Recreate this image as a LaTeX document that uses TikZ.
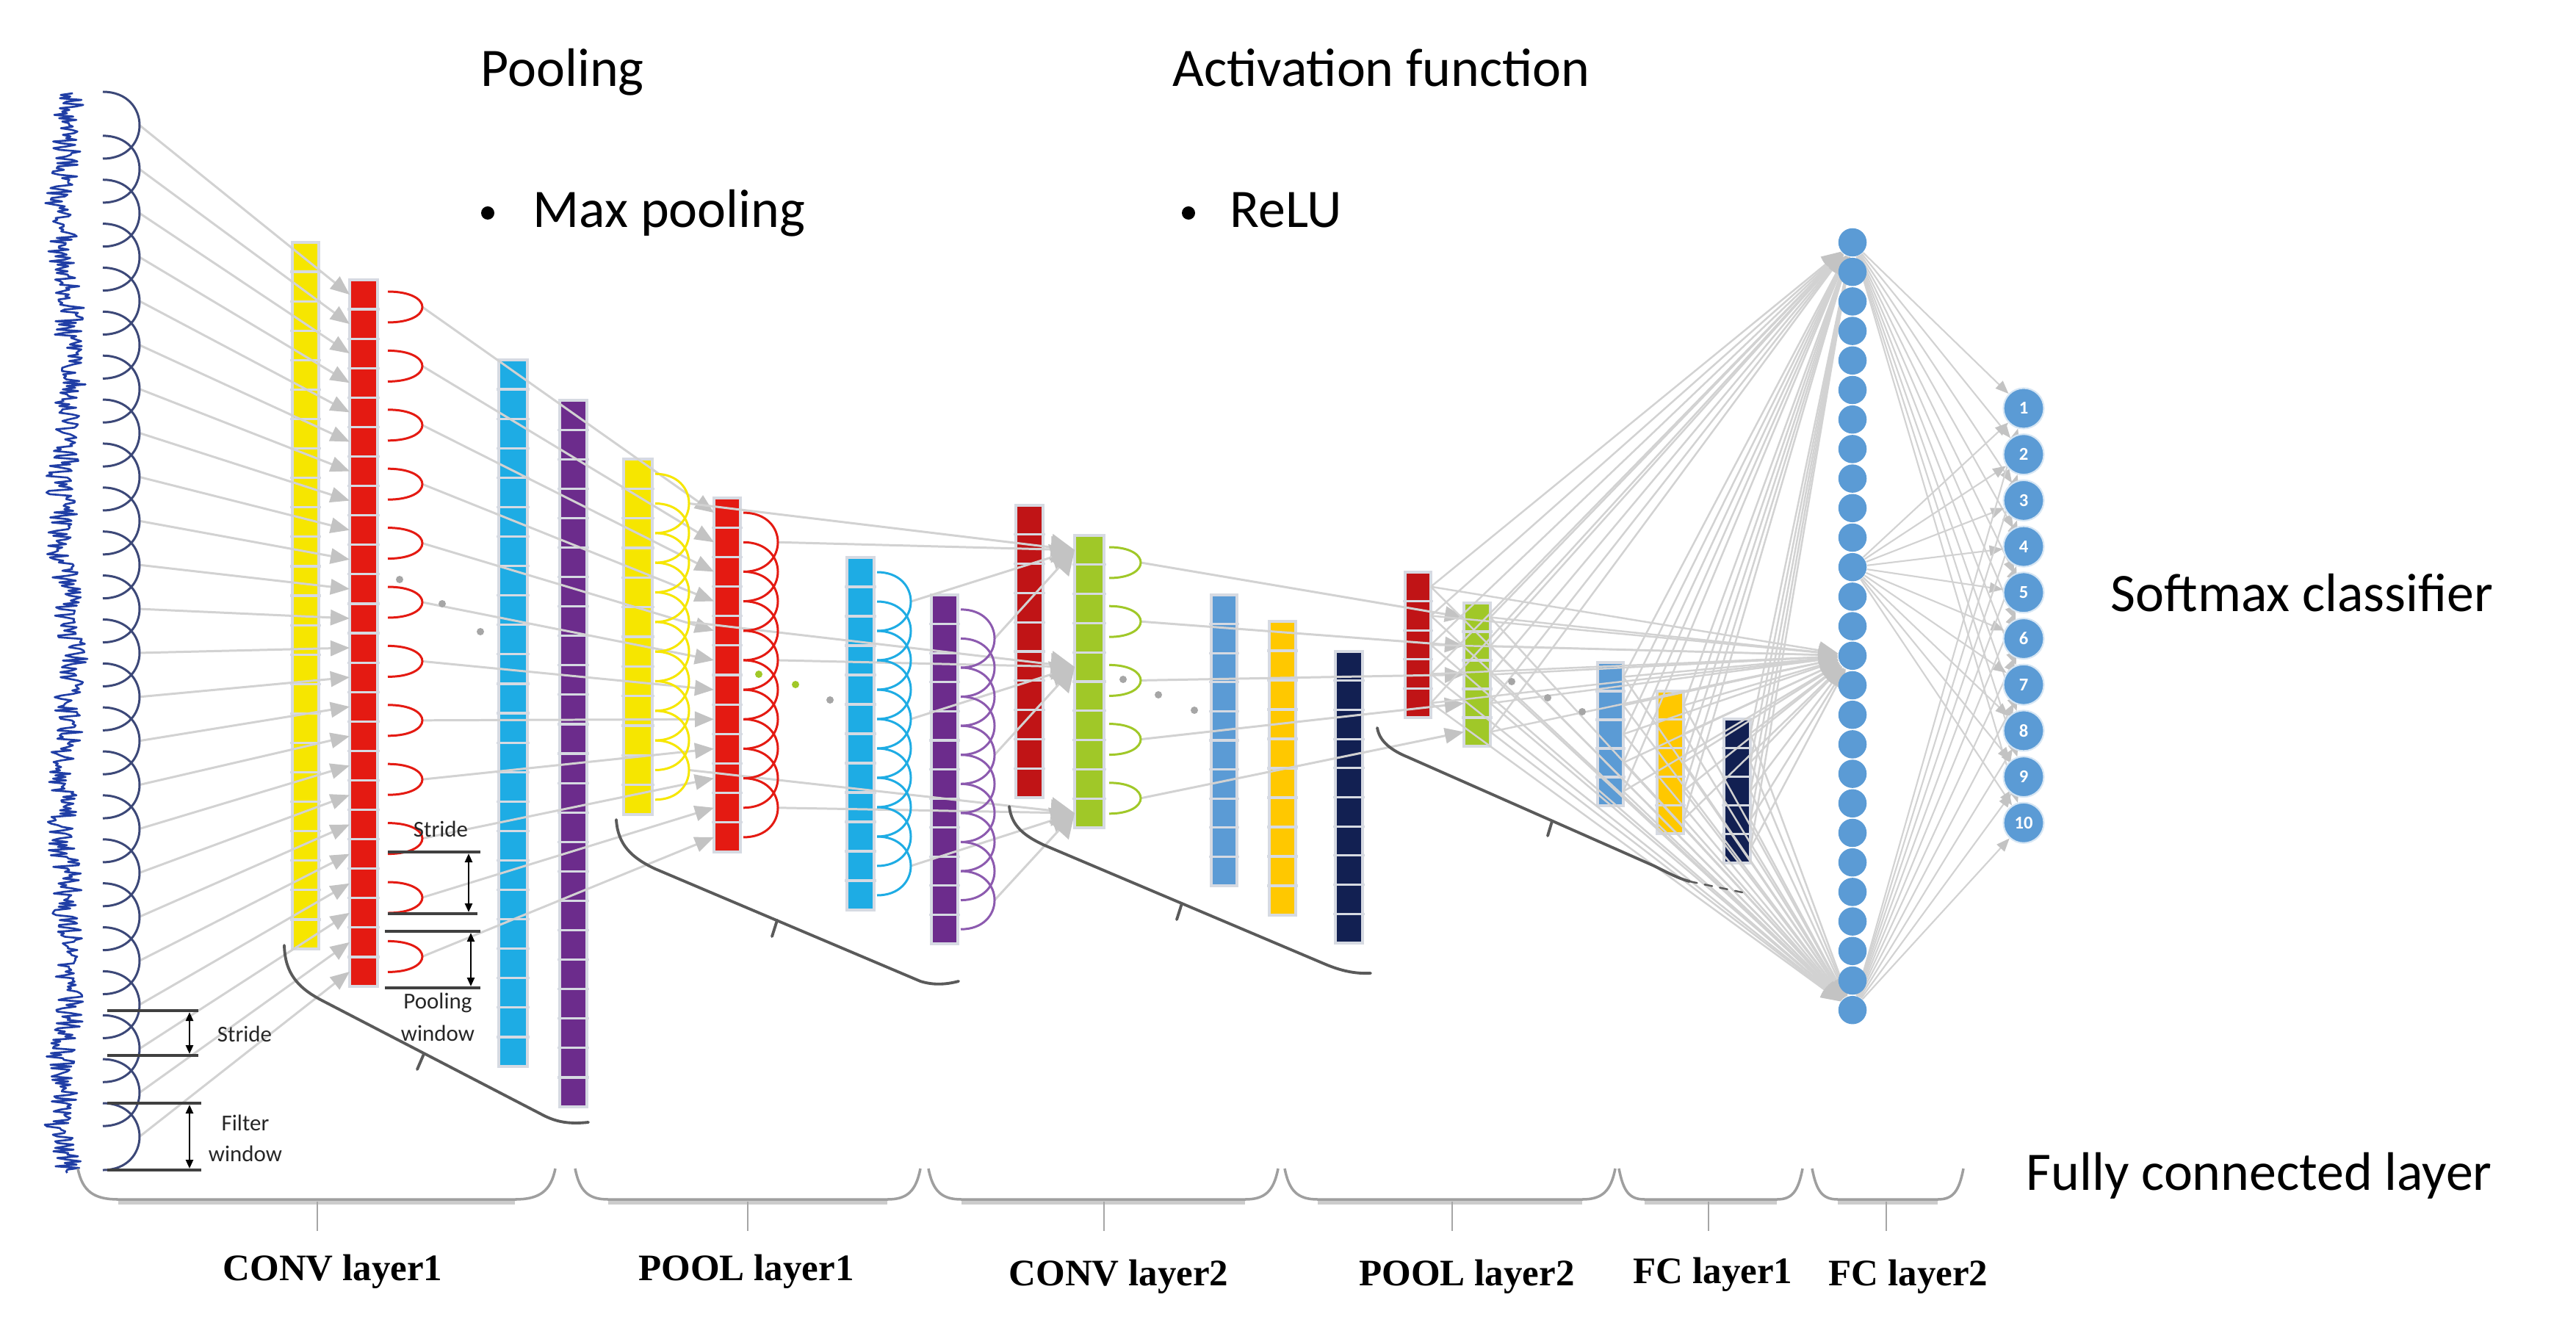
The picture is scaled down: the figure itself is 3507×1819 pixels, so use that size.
\documentclass[tikz,border=0pt]{standalone}
\usepackage{fontspec}
\setmainfont{Carlito}
\newfontfamily\labserif{Liberation Serif}
\usetikzlibrary{arrows.meta}
\pgfdeclarelayer{barlayer}
\pgfdeclarelayer{linelayer}
\pgfsetlayers{barlayer,linelayer,main}

\definecolor{cyel}{RGB}{246,230,0}
\definecolor{cred}{RGB}{228,26,18}
\definecolor{ccyan}{RGB}{30,172,228}
\definecolor{cpurp}{RGB}{108,44,140}
\definecolor{cpurparc}{RGB}{140,90,175}
\definecolor{cdred}{RGB}{192,20,22}
\definecolor{cgreen}{RGB}{160,200,40}
\definecolor{csteel}{RGB}{91,155,213}
\definecolor{cgold}{RGB}{255,200,0}
\definecolor{cnavy}{RGB}{18,32,82}
\definecolor{cinarc}{RGB}{60,72,120}
\definecolor{cwave}{RGB}{32,62,165}
\definecolor{lgray}{RGB}{210,210,210}
\definecolor{agray}{RGB}{195,195,195}
\definecolor{sepgray}{RGB}{214,218,226}
\definecolor{bracegray}{RGB}{90,90,90}

\tikzset{
  cellsep/.style={draw=sepgray, line width=0.9pt},
  arcline/.style={line width=0.85pt},
  gline/.style={draw=lgray, line width=0.85pt},
  garrow/.style={gline, -{Triangle[length=0.26cm,width=0.21cm,color=agray]}},
  gbig/.style={gline, -{Triangle[length=0.32cm,width=0.36cm,color=agray]}},
  fcline/.style={draw=lgray, line width=0.7pt, -{Triangle[length=0.26cm,width=0.24cm,color=agray]}},
  outarrow/.style={draw=lgray, line width=0.6pt, -{Triangle[length=0.18cm,width=0.14cm,color=agray]}},
  fcnode/.style={circle, fill=csteel, inner sep=0pt, minimum size=0.385cm},
  outnode/.style={circle, fill=csteel, draw=white!75!csteel, line width=0.6pt, inner sep=0pt, minimum size=0.55cm, text=white, font=\bfseries\fontsize{7}{8}\selectfont},
  titletxt/.style={font=\fontsize{21}{25}\selectfont, inner sep=0pt},
  smalltxt/.style={font=\fontsize{8.8}{10}\selectfont, inner sep=0pt, text=black!85},
  labtxt/.style={font=\labserif\bfseries\fontsize{14.5}{17}\selectfont, inner sep=0pt, anchor=base},
  dotn/.style={circle, fill=gray!70, inner sep=0pt, minimum size=0.1cm},
  gdotn/.style={circle, fill=cgreen, inner sep=0pt, minimum size=0.1cm},
  bulletn/.style={circle, fill=black, inner sep=0pt, minimum size=0.18cm},
  dimline/.style={draw=black!75, line width=1.1pt},
  dimarrow/.style={draw=black, line width=0.7pt, {Triangle[length=0.12cm,width=0.1cm]}-{Triangle[length=0.12cm,width=0.1cm]}},
  groupbrace/.style={draw=bracegray, line width=1.1pt, line cap=round},
  lbr/.style={draw=gray!75, line width=1pt},
  lbrband/.style={draw=gray!40, line width=2.4pt},
  lbrtick/.style={draw=gray!70, line width=0.6pt},
}

% bar of cells: name, xl, ytop, xr, ybot, n, colour
\newcommand\fmap[7]{%
  \fill[#7] (#2,#3) rectangle (#4,#5);
  \pgfmathsetmacro\cellh{(#5-#3)/#6}%
  \foreach \kk in {1,...,#6}{%
    \pgfmathsetmacro\yc{#3+(\kk-0.5)*\cellh}%
    \pgfmathsetmacro\ys{#3+\kk*\cellh}%
    \coordinate (#1-\kk-w) at (#2,\yc);
    \coordinate (#1-\kk-e) at (#4,\yc);
    \ifnum\kk<#6\relax \draw[cellsep] (#2-3,\ys) -- (#4+3,\ys);\fi
  }%
  \draw[cellsep] (#2,#3) rectangle (#4,#5);
}
% half-ellipse arcs: name, xend, bulge dx, first bulge y, spacing, half height, last index, colour
\newcommand\halfarcs[8]{%
  \foreach \jj in {0,...,#7}{%
    \pgfmathsetmacro\bb{#4+\jj*#5}%
    \coordinate (#1-\jj) at ({#2+#3},\bb);
    \draw[#8, arcline] (#2,\bb-#6) .. controls ({#2+#3*1.3333},\bb-#6) and ({#2+#3*1.3333},\bb+#6) .. (#2,\bb+#6);
  }%
}
% bottom brace: xl, xr, xmid, inset
\newcommand\layerbrace[4]{%
  \draw[lbrband] (#1+#4,1636) -- (#2-#4,1636);
  \draw[lbr] (#1,1591) .. controls (#1+6,1622) and (#1+#4*0.4,1633) .. (#1+#4,1633) -- (#2-#4,1633) .. controls (#2-#4*0.4,1633) and (#2-6,1622) .. (#2,1591);
  \draw[lbrtick] (#3,1636) -- (#3,1676);
}

\begin{document}
\begin{tikzpicture}[x=0.01cm,y=-0.01cm]
\useasboundingbox (0,0) rectangle (3507,1819);

\begin{pgfonlayer}{barlayer}
\fill[white] (0,0) rectangle (3507,1819);
\fmap{yel1}{398}{330}{434}{1292}{24}{cyel}
\fmap{red1}{476}{381}{514}{1343}{24}{cred}
\fmap{cyan1}{679}{490}{718}{1452}{24}{ccyan}
\fmap{pur1}{762}{545}{799}{1507}{24}{cpurp}
\fmap{yel2}{849}{625}{888}{1109}{12}{cyel}
\fmap{red2}{972}{678}{1008}{1160}{12}{cred}
\fmap{cyan2}{1153}{759}{1190}{1239}{12}{ccyan}
\fmap{pur2}{1268}{810}{1304}{1285}{12}{cpurp}
\fmap{dr3}{1383}{688}{1420}{1086}{10}{cdred}
\fmap{green3}{1463}{729}{1503}{1127}{10}{cgreen}
\fmap{sb3}{1649}{810}{1684}{1206}{10}{csteel}
\fmap{go3}{1728}{846}{1764}{1246}{10}{cgold}
\fmap{nv3}{1818}{887}{1855}{1284}{10}{cnavy}
\fmap{dr4}{1913}{779}{1948}{977}{5}{cdred}
\fmap{gr4}{1993}{821}{2029}{1016}{5}{cgreen}
\fmap{sb4}{2175}{902}{2210}{1097}{5}{csteel}
\fmap{go4}{2256}{941}{2292}{1135}{5}{cgold}
\fmap{nv4}{2347}{979}{2383}{1175}{5}{cnavy}
\end{pgfonlayer}

% input signal
\pgfmathsetseed{5}
\draw[cwave, line width=0.75pt, line join=round] plot[variable=\tv, samples=650, domain=127:1597] ({90+19*rand+7*sin(\tv*0.9)+4*sin(\tv*3.7)}, \tv);

% arcs
\halfarcs{inarc}{140}{50}{170.5}{59.87}{45.5}{23}{cinarc}
\halfarcs{r1arc}{528}{47}{418}{80.4}{21}{11}{cred}
\halfarcs{y2arc}{892}{46}{685.5}{40.33}{40.33}{9}{cyel}
\halfarcs{r2arc}{1012}{47}{738.25}{40.17}{40.17}{9}{cred}
\halfarcs{c2arc}{1194}{46}{819}{40}{40}{9}{ccyan}
\halfarcs{p2arc}{1308}{46}{869.4}{39.58}{39.58}{9}{cpurparc}
\halfarcs{g3arc}{1510}{43}{766}{80.2}{21}{4}{cgreen}

% fully connected columns
\foreach \ka in {1,...,27}{\pgfmathsetmacro\yy{330+40.2*(\ka-1)}\node[fcnode] (fc-\ka) at (2522,\yy) {};}
\foreach \ka in {1,...,10}{\pgfmathsetmacro\yy{556+62.7*(\ka-1)}\node[outnode] (out-\ka) at (2755,\yy) {\ka};}

\begin{pgfonlayer}{linelayer}
\foreach \ia in {0,...,23}{\pgfmathtruncatemacro\ka{\ia+1}\draw[garrow] (inarc-\ia) -- (red1-\ka-w);}
\foreach \ja in {0,...,11}{\pgfmathtruncatemacro\ka{\ja+1}\draw[garrow] (r1arc-\ja) -- (red2-\ka-w);}
\foreach \ai/\ci in {0/1,4/5,9/10}{\foreach \src in {y2arc,r2arc,c2arc,p2arc}{\draw[gbig] (\src-\ai) -- (green3-\ci-w);}}
\foreach \ja in {0,...,4}{\pgfmathtruncatemacro\ka{\ja+1}\draw[garrow] (g3arc-\ja) -- (gr4-\ka-w);}
\foreach \src in {dr4,gr4,sb4,go4,nv4}{\foreach \ka in {1,...,5}{\foreach \tg in {1,15,27}{\draw[fcline] (\src-\ka-e) -- (fc-\tg);}}}
\foreach \src in {1,12,27}{\foreach \ot in {1,...,10}{\draw[outarrow] (fc-\src) -- (out-\ot);}}
\end{pgfonlayer}

% ellipsis dots
\node[dotn] (d1) at (544,789) {};
\node[dotn] (d2) at (602,822) {};
\node[dotn] (d3) at (654,860) {};
\node[gdotn] (d4) at (1033,918) {};
\node[gdotn] (d5) at (1083,932) {};
\node[dotn] (d6) at (1130,953) {};
\node[dotn] (d7) at (1529,925) {};
\node[dotn] (d8) at (1577,946) {};
\node[dotn] (d9) at (1626,967) {};
\node[dotn] (d10) at (2058,928) {};
\node[dotn] (d11) at (2107,950) {};
\node[dotn] (d12) at (2154,969) {};

% dimension marks, input side
\draw[dimline] (146,1376) -- (270,1376);
\draw[dimline] (146,1437) -- (270,1437);
\draw[dimline] (146,1502) -- (274,1502);
\draw[dimline] (146,1593) -- (274,1593);
\coordinate (ds1t) at (258,1378); \coordinate (ds1b) at (258,1435);
\coordinate (dfwt) at (258,1504); \coordinate (dfwb) at (258,1591);
\draw[dimarrow] (ds1t) -- (ds1b);
\draw[dimarrow] (dfwt) -- (dfwb);
\node[smalltxt] (ls1) at (333,1408) {Stride};
\node[smalltxt] (lf1) at (334,1529) {Filter};
\node[smalltxt] (lf2) at (334,1571) {window};
% dimension marks, pooling side
\draw[dimline] (528,1160) -- (654,1160);
\draw[dimline] (528,1244) -- (650,1244);
\draw[dimline] (524,1268) -- (654,1268);
\draw[dimline] (524,1345) -- (654,1345);
\coordinate (ds2t) at (638,1162); \coordinate (ds2b) at (638,1242);
\coordinate (dpwt) at (641,1270); \coordinate (dpwb) at (641,1343);
\draw[dimarrow] (ds2t) -- (ds2b);
\draw[dimarrow] (dpwt) -- (dpwb);
\node[smalltxt] (ls2) at (600,1129) {Stride};
\node[smalltxt] (lp1) at (596,1365) {Pooling};
\node[smalltxt] (lp2) at (596,1407) {window};

% group braces
\draw[groupbrace] (387,1287) .. controls (388,1325) and (405,1345) .. (440,1363) -- (735,1516) .. controls (755,1527) and (772,1531) .. (801,1528);
\draw[groupbrace] (577,1435) -- (568,1456);
\draw[groupbrace] (839,1116) .. controls (841,1150) and (860,1168) .. (892,1183) -- (1253,1336) .. controls (1272,1342) and (1290,1340) .. (1305,1336);
\draw[groupbrace] (1058,1253) -- (1051,1275);
\draw[groupbrace] (1374,1098) .. controls (1377,1125) and (1395,1138) .. (1420,1150) -- (1800,1311) .. controls (1825,1322) and (1845,1326) .. (1866,1325);
\draw[groupbrace] (1609,1230) -- (1602,1252);
\draw[groupbrace] (1875,991) .. controls (1878,1010) and (1895,1022) .. (1917,1031) -- (2252,1179) .. controls (2270,1188) and (2285,1196) .. (2300,1200);
\draw[groupbrace, dashed, line width=0.7pt] (2300,1200) -- (2372,1215);
\draw[groupbrace] (2113,1118) -- (2107,1138);

% bottom braces
\layerbrace{106}{756}{432}{55}
\layerbrace{783}{1253}{1018}{45}
\layerbrace{1264}{1740}{1503}{45}
\layerbrace{1749}{2199}{1977}{45}
\layerbrace{2204}{2454}{2326}{35}
\layerbrace{2467}{2673}{2568}{35}

% titles
\node[titletxt, anchor=base west] (tpool) at (654,118) {Pooling};
\node[titletxt, anchor=base west] (tact) at (1596,118) {Activation function};
\node[bulletn] (b1) at (664,290) {};
\node[titletxt, anchor=base west] (tmax) at (725,310) {Max pooling};
\node[bulletn] (b2) at (1618,290) {};
\node[titletxt, anchor=base west] (trelu) at (1674,310) {ReLU};
\node[titletxt, anchor=base west] (tsoft) at (2873,832) {Softmax classifier};
\node[titletxt, anchor=base west] (tfc) at (2758,1620) {Fully connected layer};

% layer labels
\node[labtxt] (lc1) at (453,1743) {CONV layer1};
\node[labtxt] (lpl1) at (1016,1743) {POOL layer1};
\node[labtxt] (lc2) at (1523,1750) {CONV layer2};
\node[labtxt] (lpl2) at (1997,1750) {POOL layer2};
\node[labtxt] (lfc1) at (2332,1747) {FC layer1};
\node[labtxt] (lfc2) at (2598,1750) {FC layer2};
\end{tikzpicture}
\end{document}
